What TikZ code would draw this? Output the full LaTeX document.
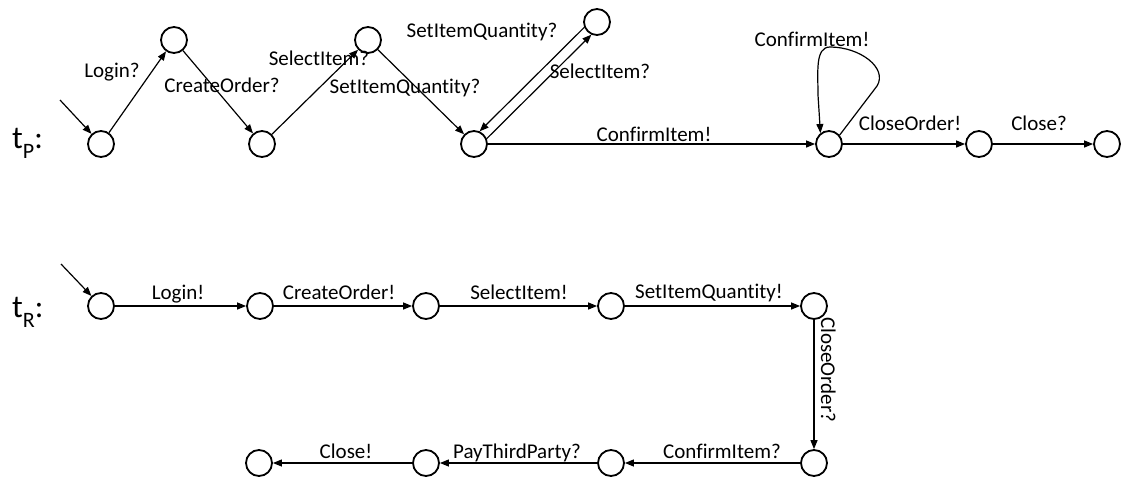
\documentclass[tikz,border=0pt]{standalone}
\usepackage{fontspec}
\setmainfont{Carlito}[RawFeature={-liga;-clig;-dlig;-calt}]
\usetikzlibrary{arrows.meta}
\begin{document}
\begin{tikzpicture}[x=1pt,y=-1pt,
  state/.style={circle,draw,line width=1.8pt,minimum size=26pt,inner sep=0pt},
  trans/.style={line width=1.2pt,-{Triangle[length=9pt,width=7pt]}},
  lbl/.style={inner sep=0pt,anchor=base,font=\fontsize{21}{25}\selectfont},
  tname/.style={inner sep=0pt,anchor=base west,font=\fontsize{32}{36}\selectfont}]
\useasboundingbox (0,0) rectangle (1121,477);

% ---- trace t_P ----
\node[tname] (tp) at (12,148) {t\raisebox{-10pt}{\fontsize{22}{22}\selectfont P}:};
\node[state] (p1) at (101,144) {};
\node[state] (p2) at (174,40) {};
\node[state] (p3) at (262,144) {};
\node[state] (p4) at (368,40) {};
\node[state] (p5) at (474,144) {};
\node[state] (p6) at (597,22) {};
\node[state] (p7) at (829,144) {};
\node[state] (p8) at (979,144) {};
\node[state] (p9) at (1107,144) {};
\coordinate (pinit) at (60,100);

\draw[trans] (pinit) -- (p1);
\draw[trans] (p1) -- (p2);
\draw[trans] (p2) -- (p3);
\draw[trans] (p3) -- (p4);
\draw[trans] (p4) -- (p5);
\draw[trans] (p6.203) -- (p5.66);
\draw[trans] (p5.23) -- (p6.246);
\draw[trans] (p5) -- (p7);
\draw[trans] (p7.40) -- (877,86) .. controls (888,68) and (860,47) .. (830,47)
   .. controls (815,47) and (818,72) .. (818,95) -- (p7.128);
\draw[trans] (p7) -- (p8);
\draw[trans] (p8) -- (p9);

\node[lbl] (lp1) at (112,77) {Login?};
\node[lbl] (lp2) at (222,92) {CreateOrder?};
\node[lbl] (lp3) at (319,65) {SelectItem?};
\node[lbl] (lp4) at (405,93) {SetItemQuantity?};
\node[lbl] (lp5) at (482,37) {SetItemQuantity?};
\node[lbl] (lp6) at (600,78) {SelectItem?};
\node[lbl] (lp7) at (654,141) {ConfirmItem!};
\node[lbl] (lp8) at (812,46) {ConfirmItem!};
\node[lbl] (lp9) at (910,130) {CloseOrder!};
\node[lbl] (lp10) at (1039,130) {Close?};

% ---- trace t_R ----
\node[tname] (tr) at (12,317) {t\raisebox{-10pt}{\fontsize{22}{22}\selectfont R}:};
\node[state] (r1) at (101,306) {};
\node[state] (r2) at (260,306) {};
\node[state] (r3) at (426,306) {};
\node[state] (r4) at (611,306) {};
\node[state] (r5) at (814,306) {};
\node[state] (r6) at (814,463) {};
\node[state] (r7) at (611,463) {};
\node[state] (r8) at (426,463) {};
\node[state] (r9) at (259,463) {};
\coordinate (rinit) at (61,264);

\draw[trans] (rinit) -- (r1);
\draw[trans] (r1) -- (r2);
\draw[trans] (r2) -- (r3);
\draw[trans] (r3) -- (r4);
\draw[trans] (r4) -- (r5);
\draw[trans] (r5) -- (r6);
\draw[trans] (r6) -- (r7);
\draw[trans] (r7) -- (r8);
\draw[trans] (r8) -- (r9);

\node[lbl] (lr1) at (178,299) {Login!};
\node[lbl] (lr2) at (339,299) {CreateOrder!};
\node[lbl] (lr3) at (519,299) {SelectItem!};
\node[lbl] (lr4) at (709,298) {SetItemQuantity!};
\node[lbl,rotate=-90,anchor=base west] (lr5) at (821,317) {CloseOrder?};
\node[lbl] (lr6) at (722,458) {ConfirmItem?};
\node[lbl] (lr7) at (517,458) {PayThirdParty?};
\node[lbl] (lr8) at (346,458) {Close!};
\end{tikzpicture}
\end{document}
